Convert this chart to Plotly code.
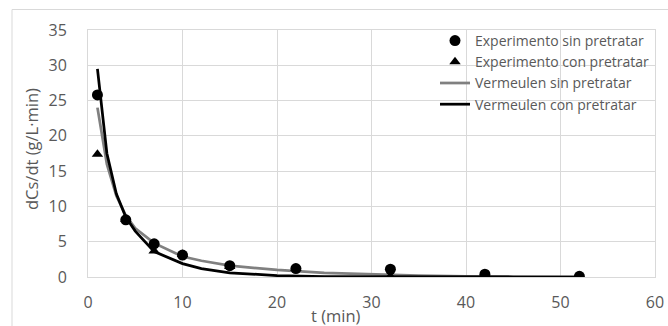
import plotly.graph_objects as go

# Experimental data
t_exp = [1, 4, 7, 10, 15, 22, 32, 42, 52]
exp_sin = [25.8, 8.1, 4.7, 3.1, 1.6, 1.2, 1.1, 0.4, 0.1]
exp_con = [17.4, 8.2, 3.7, 3.2, 1.5, 1.2, 0.1, 0.3, 0.1]

# Model curves (Vermeulen)
t_mod = [1, 2, 3, 4, 5, 7, 10, 12, 15, 20, 25, 30, 35, 40, 45, 52]
ver_sin = [24.0, 16.0, 11.5, 8.7, 6.9, 4.8, 2.9, 2.3, 1.6, 1.0, 0.6, 0.35, 0.2, 0.1, 0.05, 0.02]
ver_con = [29.5, 17.5, 11.8, 8.5, 6.5, 3.6, 1.9, 1.2, 0.6, 0.2, 0.05, 0.02, 0.01, 0.0, 0.0, 0.0]

x_ticks = [0, 10, 20, 30, 40, 50, 60]
y_ticks = [0, 5, 10, 15, 20, 25, 30, 35]

FONT = "Open Sans"
GRAY_TXT = "#595959"

fig = go.Figure()
fig.add_trace(go.Scatter(x=t_mod, y=ver_sin, mode="lines", name="Vermeulen sin pretratar",
                         legendrank=3, line=dict(color="#808080", width=2.75)))
fig.add_trace(go.Scatter(x=t_mod, y=ver_con, mode="lines", name="Vermeulen con pretratar",
                         legendrank=4, line=dict(color="#000000", width=2.75)))
fig.add_trace(go.Scatter(x=t_exp, y=exp_con, mode="markers", name="Experimento con pretratar",
                         legendrank=2, marker=dict(symbol="triangle-up", size=10, color="#000000")))
fig.add_trace(go.Scatter(x=t_exp, y=exp_sin, mode="markers", name="Experimento sin pretratar",
                         legendrank=1, marker=dict(symbol="circle", size=11, color="#000000")))

W, H = 668, 326
L, R, T, B = 88, 13, 30, 49
pw, ph = W - L - R, H - T - B

def px_x(p):
    return (p - L) / pw

def px_y(p):
    return (H - B - p) / ph

fig.update_layout(
    width=W, height=H,
    margin=dict(l=L, r=R, t=T, b=B, autoexpand=False),
    paper_bgcolor="white", plot_bgcolor="white",
    font=dict(family=FONT, color=GRAY_TXT, size=14),
    showlegend=True,
    legend=dict(x=px_x(435), y=px_y(25), xanchor="left", yanchor="top",
                bgcolor="rgba(0,0,0,0)", font=dict(size=14, color=GRAY_TXT),
                traceorder="normal", tracegroupgap=0, itemwidth=30),
    xaxis=dict(range=[0, 60], tickvals=x_ticks, showgrid=True, gridcolor="#d9d9d9",
               gridwidth=1, zeroline=False, showline=True, linecolor="#d9d9d9",
               mirror=True, ticks="", ticklabelstandoff=11,
               tickfont=dict(size=16, color=GRAY_TXT)),
    yaxis=dict(range=[0, 35], tickvals=y_ticks, showgrid=True, gridcolor="#d9d9d9",
               gridwidth=1, zeroline=False, showline=True, linecolor="#d9d9d9",
               mirror=True, ticks="", ticklabelstandoff=17,
               tickfont=dict(size=16, color=GRAY_TXT)),
    shapes=[dict(type="rect", xref="paper", yref="paper",
                 x0=px_x(12), x1=px_x(700), y0=px_y(360), y1=px_y(9.5),
                 line=dict(color="#d9d9d9", width=1), layer="below")],
    annotations=[
        dict(text="t (min)", xref="paper", yref="paper", x=px_x(336), y=px_y(315),
             xanchor="center", yanchor="middle", showarrow=False,
             font=dict(size=16.5, color=GRAY_TXT)),
        dict(text="dCs/dt (g/L·min)", xref="paper", yref="paper", x=px_x(31), y=px_y(149),
             xanchor="center", yanchor="middle", showarrow=False, textangle=-90,
             font=dict(size=16.5, color=GRAY_TXT)),
    ],
)

fig.write_html("out.html", config={"displayModeBar": False},
               post_script="document.body.style.margin='0';document.body.style.overflow='hidden';")
